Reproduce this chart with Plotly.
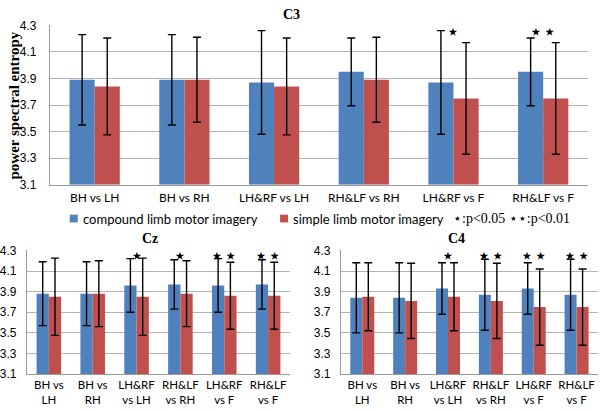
import plotly.graph_objects as go

# ---------------- data ----------------
cats_top = ["BH vs LH", "BH vs RH", "LH&RF vs LH", "RH&LF vs RH", "LH&RF vs F", "RH&LF vs F"]
cats_bottom = ["BH vs<br>LH", "BH vs<br>RH", "LH&RF<br>vs LH", "RH&LF<br>vs RH", "LH&RF<br>vs F", "RH&LF<br>vs F"]

c3_compound = [3.89, 3.89, 3.87, 3.95, 3.87, 3.95]
c3_compound_sd = [0.34, 0.34, 0.39, 0.255, 0.39, 0.255]
c3_simple = [3.84, 3.89, 3.84, 3.89, 3.75, 3.75]
c3_simple_sd = [0.365, 0.32, 0.365, 0.32, 0.42, 0.42]
c3_sig = ["", "", "", "", "⋆", "⋆⋆"]

cz_compound = [3.88, 3.88, 3.96, 3.97, 3.96, 3.97]
cz_compound_sd = [0.31, 0.31, 0.26, 0.24, 0.26, 0.24]
cz_simple = [3.85, 3.88, 3.85, 3.88, 3.86, 3.86]
cz_simple_sd = [0.375, 0.32, 0.375, 0.32, 0.325, 0.325]
cz_sig = ["", "", "⋆", "⋆", "⋆⋆", "⋆⋆"]

c4_compound = [3.84, 3.84, 3.93, 3.87, 3.93, 3.87]
c4_compound_sd = [0.34, 0.34, 0.25, 0.345, 0.25, 0.345]
c4_simple = [3.85, 3.81, 3.85, 3.81, 3.75, 3.75]
c4_simple_sd = [0.33, 0.365, 0.33, 0.365, 0.37, 0.37]
c4_sig = ["", "", "⋆", "⋆⋆", "⋆⋆", "⋆⋆"]

sig_level = 4.25
series_names = ["compound limb motor imagery", "simple limb motor imagery"]
sig_key = "⋆:p&lt;0.05 ⋆⋆:p&lt;0.01"
panel_titles = ["C3", "Cz", "C4"]
y_title = "power spectral entropy"
y_range = [3.1, 4.3]

# ---------------- styling ----------------
BLUE = "#4F81BD"
RED = "#C0504D"
GRID = "#b3b3b3"
AXIS = "#9a9a9a"
W, H = 600, 411

fig = go.Figure()

panels = [
    dict(cats=cats_top, comp=c3_compound, comp_sd=c3_compound_sd, simp=c3_simple,
         simp_sd=c3_simple_sd, sig=c3_sig, xa="x", ya="y"),
    dict(cats=cats_bottom, comp=cz_compound, comp_sd=cz_compound_sd, simp=cz_simple,
         simp_sd=cz_simple_sd, sig=cz_sig, xa="x2", ya="y2"),
    dict(cats=cats_bottom, comp=c4_compound, comp_sd=c4_compound_sd, simp=c4_simple,
         simp_sd=c4_simple_sd, sig=c4_sig, xa="x3", ya="y3"),
]

for p in panels:
    for name, vals, sd, col in [(series_names[0], p["comp"], p["comp_sd"], BLUE),
                                (series_names[1], p["simp"], p["simp_sd"], RED)]:
        fig.add_trace(go.Bar(
            x=p["cats"], y=[v - y_range[0] for v in vals], base=y_range[0],
            name=name, marker_color=col, marker_line_width=0,
            error_y=dict(type="data", array=sd, visible=True, color="black",
                         thickness=1.4, width=4),
            xaxis=p["xa"], yaxis=p["ya"], showlegend=False,
        ))
    for c, s in zip(p["cats"], p["sig"]):
        if s:
            fig.add_annotation(x=c, y=sig_level, xref=p["xa"], yref=p["ya"], text=s,
                               showarrow=False, yanchor="middle",
                               font=dict(family="DejaVu Sans", size=22, color="black"))

# domains (paper fractions)
dom_top_x = [48 / W, 588 / W]
dom_top_y = [1 - 184 / H, 1 - 19 / H]
dom_cz_x = [25 / W, 289 / W]
dom_c4_x = [340 / W, 598 / W]
dom_bot_y = [1 - 380 / H, 1 - 252 / H]

xcommon = dict(type="category", showgrid=False, showline=True, linecolor=AXIS, linewidth=1,
               ticks="", ticklen=0, fixedrange=True)
ycommon = dict(range=y_range, dtick=0.2, tick0=3.1, tickformat=".1f", showgrid=True,
               gridcolor=GRID, gridwidth=1, showline=True, linecolor=AXIS, linewidth=1,
               ticks="", ticklen=0, zeroline=False,
               tickfont=dict(family="Liberation Sans", size=12, color="black"))

fig.update_layout(
    width=W, height=H, margin=dict(l=0, r=0, t=0, b=0),
    paper_bgcolor="white", plot_bgcolor="white",
    barmode="group", bargap=0.44, bargroupgap=0,
    xaxis=dict(domain=dom_top_x, anchor="y", ticklabelstandoff=2,
               tickfont=dict(family="Lato", size=12, color="black"), **xcommon),
    yaxis=dict(domain=dom_top_y, anchor="x", ticklabelstandoff=10, **ycommon),
    xaxis2=dict(domain=dom_cz_x, anchor="y2", ticklabelstandoff=0,
                tickfont=dict(family="Lato", size=11.5, color="black"), **xcommon),
    yaxis2=dict(domain=dom_bot_y, anchor="x2", ticklabelstandoff=7, **ycommon),
    xaxis3=dict(domain=dom_c4_x, anchor="y3", ticklabelstandoff=0,
                tickfont=dict(family="Lato", size=11.5, color="black"), **xcommon),
    yaxis3=dict(domain=dom_bot_y, anchor="x3", ticklabelstandoff=7, **ycommon),
    showlegend=False,
)

# manual legend: colour squares + labels
LEG_Y = 219
for name, col, sx in [(series_names[0], BLUE, 68), (series_names[1], RED, 279)]:
    fig.add_shape(type="rect", xref="paper", yref="paper",
                  x0=sx / W, x1=(sx + 8) / W, y0=1 - (LEG_Y + 4) / H, y1=1 - (LEG_Y - 4) / H,
                  fillcolor=col, line_width=0)
    fig.add_annotation(x=(sx + 11) / W, y=1 - LEG_Y / H, xref="paper", yref="paper",
                       text=name, showarrow=False, xanchor="left", yanchor="middle",
                       font=dict(family="Lato", size=13, color="black"))

# significance key
fig.add_annotation(x=450 / W, y=1 - LEG_Y / H, xref="paper", yref="paper",
                   text=sig_key, showarrow=False, xanchor="left", yanchor="middle",
                   font=dict(family="Liberation Serif", size=14, color="black"))

# panel titles
for t, xp, yp in [(panel_titles[0], 290, 8), (panel_titles[1], 148, 240), (panel_titles[2], 456, 240)]:
    fig.add_annotation(x=xp / W, y=1 - yp / H, xref="paper", yref="paper", text="<b>%s</b>" % t,
                       showarrow=False, xanchor="center", yanchor="middle",
                       font=dict(family="Liberation Serif", size=14, color="black"))

# y-axis title
fig.add_annotation(x=12 / W, y=1 - 102 / H, xref="paper", yref="paper",
                   text="<b>%s</b>" % y_title, textangle=-90, showarrow=False,
                   xanchor="center", yanchor="middle",
                   font=dict(family="Liberation Serif", size=15, color="black"))

fig.write_html("out.html", config={"displayModeBar": False},
               post_script="document.body.style.margin='0';document.body.style.overflow='hidden';")
